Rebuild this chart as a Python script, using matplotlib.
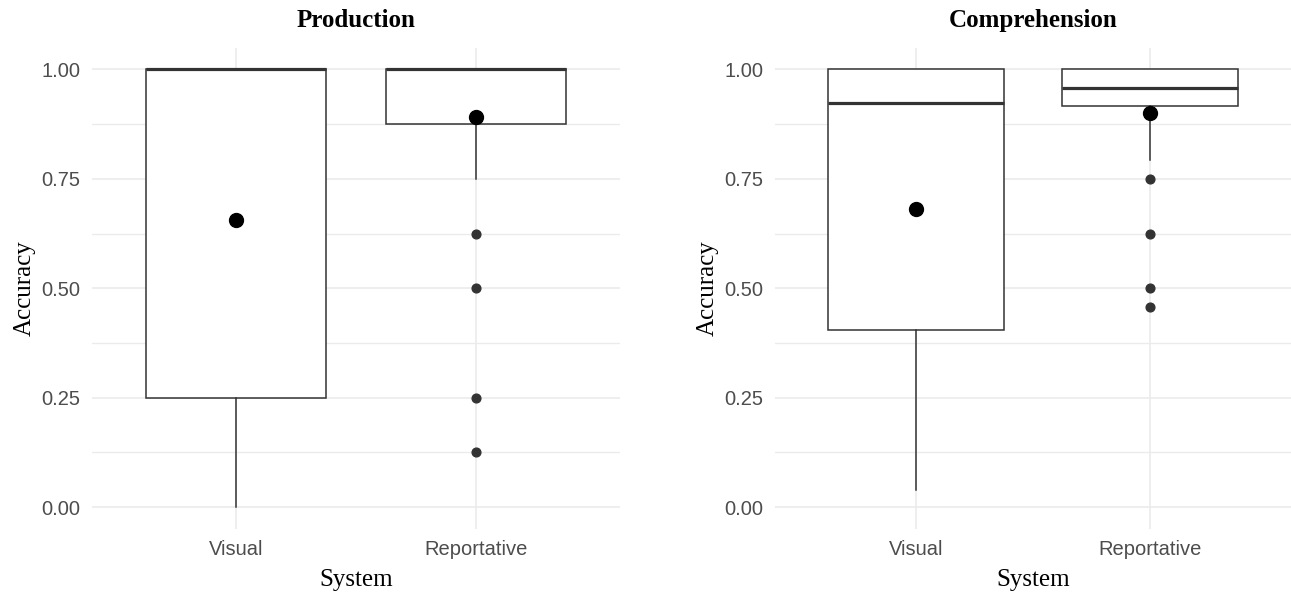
import matplotlib
matplotlib.use('Agg')
import matplotlib.pyplot as plt
import numpy as np

# --- data: box statistics per system ---
systems = ['Visual', 'Reportative']

prod_q1 = [0.25, 0.875]
prod_med = [1.0, 1.0]
prod_q3 = [1.0, 1.0]
prod_lo = [0.0, 0.75]
prod_hi = [1.0, 1.0]
prod_mean = [0.655, 0.892]
prod_out = [[], [0.625, 0.5, 0.25, 0.125]]

comp_q1 = [0.405, 0.917]
comp_med = [0.923, 0.958]
comp_q3 = [1.0, 1.0]
comp_lo = [0.04, 0.792]
comp_hi = [1.0, 1.0]
comp_mean = [0.682, 0.901]
comp_out = [[], [0.75, 0.625, 0.5, 0.458]]

yticks = [0.0, 0.25, 0.5, 0.75, 1.0]

BOX = '#333333'
GRID = '#EBEBEB'


def make_stats(q1, med, q3, lo, hi, mean, out):
    return [dict(q1=a, med=b, q3=c, whislo=d, whishi=e, mean=f, fliers=np.array(g))
            for a, b, c, d, e, f, g in zip(q1, med, q3, lo, hi, mean, out)]


def draw_panel(ax, stats, title):
    ax.bxp(stats, positions=[1, 2], widths=0.75, patch_artist=True,
           showcaps=False, showmeans=True, zorder=3,
           boxprops=dict(facecolor='white', edgecolor=BOX, linewidth=1.1),
           medianprops=dict(color=BOX, linewidth=2.3, solid_capstyle='butt'),
           whiskerprops=dict(color=BOX, linewidth=1.1),
           flierprops=dict(marker='o', markerfacecolor=BOX, markeredgecolor=BOX,
                           markersize=6.3, linestyle='none'),
           meanprops=dict(marker='o', markerfacecolor='black', markeredgecolor='black',
                          markersize=10))
    ax.set_xlim(0.4, 2.6)
    ax.set_ylim(-0.05, 1.05)
    ax.set_xticks([1, 2])
    ax.set_xticklabels(systems)
    ax.set_yticks(yticks)
    ax.set_yticklabels([f'{t:.2f}' for t in yticks])
    ax.set_yticks([0.125, 0.375, 0.625, 0.875], minor=True)
    ax.grid(True, which='major', color=GRID, linewidth=1.2, zorder=0)
    ax.grid(True, which='minor', axis='y', color=GRID, linewidth=1.0, zorder=0)
    ax.set_axisbelow(True)
    for s in ax.spines.values():
        s.set_visible(False)
    ax.tick_params(which='both', length=0)
    ax.tick_params(axis='y', pad=8.5)
    ax.tick_params(axis='x', pad=8)
    for lab in ax.get_xticklabels() + ax.get_yticklabels():
        lab.set_fontfamily('Liberation Sans')
        lab.set_fontsize(14.5)
        lab.set_color('#4D4D4D')
    ax.set_title(title, fontfamily='Liberation Serif', fontweight='bold',
                 fontsize=18, pad=14.5)
    ax.set_xlabel('System', fontfamily='Liberation Serif', fontsize=18, labelpad=7)
    ax.set_ylabel('Accuracy', fontfamily='Liberation Serif', fontsize=18, labelpad=4)


fig = plt.figure(figsize=(12.91, 5.94), dpi=100)
ax1 = fig.add_axes([0.0713, 0.1096, 0.4093, 0.8103])
ax2 = fig.add_axes([0.6003, 0.1096, 0.3997, 0.8103])

draw_panel(ax1, make_stats(prod_q1, prod_med, prod_q3, prod_lo, prod_hi, prod_mean, prod_out),
           'Production')
draw_panel(ax2, make_stats(comp_q1, comp_med, comp_q3, comp_lo, comp_hi, comp_mean, comp_out),
           'Comprehension')

fig.savefig('out.png', dpi=100, facecolor='white')
